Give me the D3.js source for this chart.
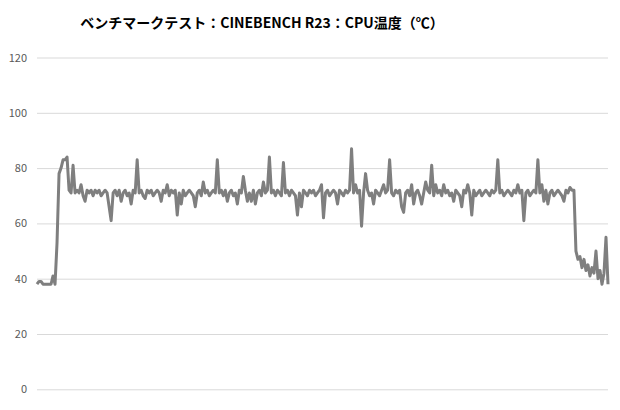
<!DOCTYPE html>
<html>
<head>
<meta charset="utf-8">
<script src="https://cdn.jsdelivr.net/npm/d3@7"></script>
<style>
  body { margin: 0; background: #fff; }
  svg { display: block; }
</style>
</head>
<body>
<div id="chart"></div>
<script>
// タイトル・目盛り
const chartTitle = 'ベンチマークテスト：CINEBENCH R23：CPU温度（℃）';
const yTicks = [0, 20, 40, 60, 80, 100, 120];

// CPU温度（℃）の推移（約2px間隔で読み取り）
const cpuTemp = [
    38, 39, 39, 38, 38, 38, 38, 38, 41, 38,
    53, 78, 80, 83, 83, 84, 72, 71, 81, 71,
    72, 71, 74, 70, 68, 72, 71, 72, 70, 72,
    71, 72, 70, 71, 72, 71, 66, 61, 71, 72,
    70, 72, 68, 71, 72, 70, 71, 67, 72, 71,
    83, 71, 72, 70, 69, 72, 71, 72, 70, 71,
    72, 71, 68, 72, 71, 74, 70, 72, 71, 72,
    63, 71, 67, 72, 70, 71, 72, 71, 70, 66,
    71, 72, 70, 75, 71, 72, 70, 71, 72, 71,
    83, 71, 72, 70, 72, 68, 71, 72, 70, 71,
    67, 72, 71, 77, 72, 68, 71, 68, 72, 67,
    71, 72, 70, 75, 71, 72, 84, 71, 72, 70,
    72, 71, 70, 82, 71, 72, 70, 72, 71, 70,
    63, 71, 66, 72, 71, 70, 72, 71, 72, 70,
    71, 72, 74, 62, 71, 72, 70, 71, 72, 71,
    67, 72, 71, 70, 72, 71, 72, 87, 71, 74,
    71, 72, 59, 71, 78, 72, 70, 71, 67, 72,
    71, 70, 72, 74, 71, 72, 83, 71, 70, 72,
    71, 72, 66, 64, 71, 72, 70, 74, 67, 71,
    72, 70, 67, 71, 75, 72, 71, 81, 70, 74,
    71, 72, 70, 74, 71, 72, 70, 71, 68, 72,
    71, 70, 66, 72, 71, 74, 71, 63, 72, 70,
    71, 72, 70, 71, 72, 71, 70, 72, 71, 72,
    83, 71, 72, 70, 71, 72, 71, 70, 72, 71,
    74, 71, 72, 61, 71, 72, 70, 71, 72, 71,
    83, 71, 74, 68, 72, 67, 71, 72, 70, 71,
    72, 71, 70, 68, 72, 71, 73, 72, 72, 50,
    47, 48, 44, 47, 43, 45, 41, 44, 42, 50,
    40, 43, 38, 42, 55, 38
];

const width = 620;
const height = 410;
const margin = { top: 57.5, right: 12, bottom: 20.7, left: 37 };

const svg = d3.select('#chart')
    .append('svg')
    .attr('width', width)
    .attr('height', height);

// スケール
const x = d3.scaleLinear()
    .domain([0, cpuTemp.length - 1])
    .range([margin.left, width - margin.right]);

const y = d3.scaleLinear()
    .domain([0, 120])
    .range([height - margin.bottom, margin.top]);

// 目盛り線とラベル
const yAxis = d3.axisLeft(y)
    .tickValues(yTicks)
    .tickSize(-(width - margin.left - margin.right))
    .tickPadding(10);

const gy = svg.append('g')
    .attr('transform', `translate(${margin.left},0)`)
    .call(yAxis);

gy.select('.domain').remove();
gy.selectAll('.tick line')
    .attr('stroke', '#d9d9d9')
    .attr('stroke-width', 1);
gy.selectAll('.tick text')
    .attr('fill', '#595959')
    .style('font-family', '"Noto Sans CJK JP", "Noto Sans", sans-serif')
    .style('font-size', '11px');

// 折れ線
const line = d3.line()
    .x((d, i) => x(i))
    .y(d => y(d));

svg.append('path')
    .datum(cpuTemp)
    .attr('d', line)
    .attr('fill', 'none')
    .attr('stroke', '#7f7f7f')
    .attr('stroke-width', 3)
    .attr('stroke-linejoin', 'round');

// タイトル
svg.append('text')
    .attr('x', 262)
    .attr('y', 28)
    .attr('text-anchor', 'middle')
    .attr('fill', '#000')
    .style('font-family', '"Noto Sans CJK JP", sans-serif')
    .style('font-weight', 'bold')
    .style('font-size', '14px')
    .text(chartTitle);
</script>
</body>
</html>
